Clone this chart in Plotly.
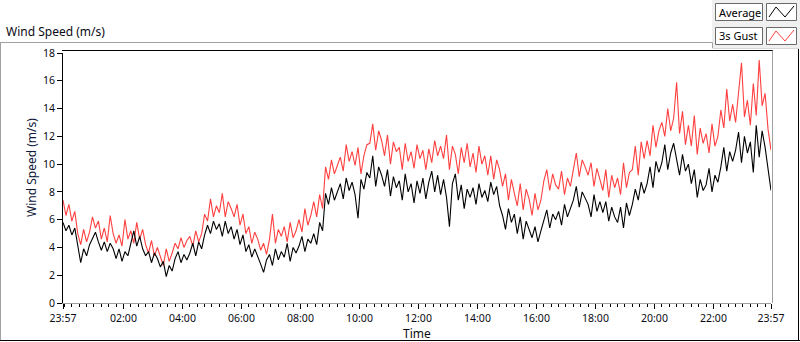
import pandas as pd
import plotly.graph_objects as go

# ---- data (one value per ~6 minutes) ----
start_time = "2024-01-01 23:57"
end_time = "2024-01-02 23:57"

average = [
    5.8, 5.2, 5.6, 4.9, 5.4,
    4.1, 2.9, 3.9, 3.4, 4.2,
    4.6, 5.1, 4.4,
    3.8, 4.4, 3.7, 4.3, 3.9,
    3.2, 3.9, 3.0, 3.7, 3.4,
    4.2, 5.2, 4.1, 4.8, 3.9,
    3.4, 3.7, 2.9, 3.6, 3.2,
    2.6, 3.0, 1.9, 2.7, 2.3,
    3.2, 3.7, 2.9, 3.5, 3.1,
    3.6, 4.3, 3.4, 4.4, 3.9,
    4.9, 5.6, 5.0, 5.9, 5.3,
    5.7, 4.8, 5.9, 5.0, 5.5,
    4.6, 5.3, 4.2, 4.9,
    3.7, 4.2, 3.3, 3.9, 3.4,
    2.8, 2.2, 3.1,
    3.5, 2.7, 3.9, 3.1, 3.7,
    3.3, 4.3, 3.0, 4.0, 3.6,
    4.1, 4.8, 3.7, 4.6, 4.3,
    5.0, 4.2, 5.8, 5.2,
    7.9, 7.1, 8.3, 7.4, 8.0,
    8.6, 7.5, 9.0, 8.1, 8.7,
    7.8, 6.1, 8.9, 8.2, 9.4,
    9.0, 10.6, 8.4, 9.8, 9.2,
    8.4, 9.6, 7.7, 9.1, 8.3,
    8.8, 7.4, 9.3, 8.0, 8.6,
    7.2, 8.8, 7.9, 9.0, 7.5,
    8.7, 9.5, 8.0, 9.2, 7.8,
    8.9, 7.6, 5.5, 8.6, 9.3,
    7.4, 8.5, 6.8, 8.2, 7.6,
    8.3, 7.1, 8.6, 7.6, 8.1,
    7.3, 8.7, 7.8, 8.4, 7.0,
    6.3, 5.3, 6.8, 5.8, 6.4,
    5.0, 6.2, 4.6, 5.9, 5.3,
    4.7, 5.5, 4.4, 5.2,
    5.9, 6.7, 5.4, 6.4, 6.0,
    6.6, 5.6, 7.1, 6.2, 6.8,
    7.4, 8.4, 6.9, 8.0, 7.6,
    7.1, 6.2, 7.8, 6.6, 7.3,
    6.5, 7.3, 5.9, 6.9, 6.2,
    5.8, 6.9, 5.4, 7.2, 6.3,
    7.1, 8.2, 7.4, 8.7, 7.9,
    8.6, 9.8, 8.3, 10.2, 9.4,
    10.1, 11.4, 9.6, 10.8, 11.5,
    10.3, 9.2, 10.7, 9.5, 10.0,
    8.6, 9.6, 7.6, 8.9, 8.1,
    8.5, 9.7, 8.0, 9.2, 8.7,
    9.8, 11.2, 9.5, 10.9, 10.2,
    11.0, 12.3, 10.1, 12.0, 10.8,
    11.6, 9.4, 12.8, 10.5, 12.4,
    11.2, 9.6, 8.1,
]

gust = [
    7.4, 6.3, 7.1, 5.9, 6.6,
    5.0, 4.2, 5.3, 4.4, 5.1,
    6.2, 5.4, 5.9,
    4.6, 5.4, 4.4, 6.3, 5.0,
    4.3, 4.9, 4.1, 6.0, 4.6,
    5.2, 4.3, 5.8, 4.6, 5.3,
    4.2, 3.6, 4.5, 3.4, 4.0,
    3.4, 2.7, 3.9, 3.0, 3.6,
    4.3, 3.9, 4.7, 4.0, 4.5,
    4.8, 4.1, 5.2, 4.4, 5.0,
    6.4, 5.9, 7.5, 6.2, 7.0,
    6.5, 7.9, 6.2, 7.3, 6.8,
    6.2, 7.1, 5.6, 6.4,
    5.0, 5.5, 4.3, 5.1, 4.6,
    3.8, 4.3, 3.5,
    4.6, 6.4, 4.3, 5.3, 4.8,
    5.5, 4.4, 5.8, 4.7, 5.2,
    6.0, 5.1, 6.8, 5.6, 6.3,
    7.3, 6.2, 7.8, 6.8,
    9.8, 8.9, 10.3, 9.3, 9.9,
    10.5, 9.5, 11.4, 10.2, 10.9,
    9.9, 11.2, 9.3, 10.6, 11.4,
    11.5, 12.9, 11.0, 12.4, 11.7,
    10.6, 12.1, 10.0, 11.6, 10.9,
    11.2, 9.6, 11.5, 10.2, 10.9,
    9.7, 11.4, 10.4, 11.0, 9.6,
    11.1, 10.1, 11.7, 10.6, 11.3,
    10.4, 12.1, 9.6, 11.3, 10.7,
    9.3, 11.2, 10.1, 11.5, 9.8,
    10.8, 9.4, 11.3, 10.0, 10.6,
    9.2, 10.6, 8.9, 10.3, 9.6,
    8.4, 9.3, 7.4, 8.9, 7.9,
    7.0, 8.6, 6.7, 8.2, 7.5,
    6.3, 7.9, 6.7, 7.4,
    8.8, 9.6, 8.1, 9.3, 8.5,
    8.2, 9.5, 7.8, 9.0, 8.4,
    9.6, 10.8, 9.1, 10.3, 9.8,
    9.2, 10.1, 8.4, 9.7, 8.8,
    8.1, 9.6, 7.6, 9.2, 8.3,
    9.0, 7.8, 10.1, 8.3, 9.4,
    9.6, 11.3, 9.2, 11.6, 10.4,
    11.7, 10.6, 12.8, 11.2, 12.4,
    13.0, 12.0, 14.0, 12.4, 13.3,
    15.9, 12.2, 13.8, 11.4, 12.8,
    11.3, 13.5, 10.7, 12.6, 11.5,
    12.2, 10.8, 12.9, 11.3, 12.0,
    13.9, 12.6, 15.4, 13.1, 14.3,
    13.0, 15.0, 17.3, 13.4, 14.6,
    12.8, 15.8, 13.5, 17.5, 14.2,
    15.1, 12.5, 11.0,
]

tick_hours = ["02:00", "04:00", "06:00", "08:00", "10:00", "12:00",
              "14:00", "16:00", "18:00", "20:00", "22:00"]
tick_labels = ["23:57"] + tick_hours + ["23:57"]
series_names = ["Average", "3s Gust"]

# ---- build ----
t_avg = pd.date_range(start_time, end_time, periods=len(average))
t_gust = pd.date_range(start_time, end_time, periods=len(gust))
tick_vals = [pd.Timestamp(start_time)] + \
    [pd.Timestamp("2024-01-02 " + h) for h in tick_hours] + [pd.Timestamp(end_time)]

W, H = 800, 342
L, R, T, B = 63, 29, 53, 39
PW, PH = W - L - R, H - T - B


def px(x):
    return (x - L) / PW


def py(y):
    return (H - B - y) / PH


FONT = "Noto Sans"
TXT = "#0a0a14"

fig = go.Figure()
fig.add_trace(go.Scatter(x=t_gust, y=gust, mode="lines", name=series_names[1],
                         line=dict(color="#ff4040", width=1.1)))
fig.add_trace(go.Scatter(x=t_avg, y=average, mode="lines", name=series_names[0],
                         line=dict(color="#000000", width=1.1)))

shapes = []
def hline(y, x0, x1, color):
    shapes.append(dict(type="line", xref="paper", yref="paper",
                       x0=px(x0), x1=px(x1), y0=py(y), y1=py(y),
                       line=dict(color=color, width=1)))

def vline(x, y0, y1, color):
    shapes.append(dict(type="line", xref="paper", yref="paper",
                       x0=px(x), x1=px(x), y0=py(y0), y1=py(y1),
                       line=dict(color=color, width=1)))

# legend background
shapes.append(dict(type="rect", xref="paper", yref="paper", layer="below",
                   x0=px(712), x1=px(800), y0=py(0), y1=py(48),
                   fillcolor="#f0f0f0", line=dict(width=0)))
# outer frame
hline(42.5, 0, 712.5, "#a0a0a0")
vline(712.5, 42.5, 48, "#a0a0a0")
vline(0.5, 42.5, 341, "#a0a0a0")
hline(340.5, 0, 800, "#000000")
vline(798.5, 48, 341, "#000000")
hline(48.5, 712.5, 799, "#d8d8d8")
# plot frame
hline(50.5, 62, 773, "#000000")
vline(772.5, 50.5, 303, "#a0a0a0")

# legend boxes
for yy0, yy1 in [(3.5, 20.5), (27.5, 44.5)]:
    shapes.append(dict(type="rect", xref="paper", yref="paper",
                       x0=px(715.5), x1=px(762.5), y0=py(yy1), y1=py(yy0),
                       fillcolor="white", line=dict(color="#6a6a6a", width=1)))
    shapes.append(dict(type="rect", xref="paper", yref="paper",
                       x0=px(766.5), x1=px(796.5), y0=py(yy1), y1=py(yy0),
                       fillcolor="white", line=dict(color="#6a6a6a", width=1)))

def zig(yc, color):
    pts = [(769, yc + 5), (776, yc - 5), (785, yc + 5), (794, yc - 6)]
    path = "M " + " L ".join(f"{px(a)},{py(b)}" for a, b in pts)
    shapes.append(dict(type="path", xref="paper", yref="paper", path=path,
                       line=dict(color=color, width=1)))

zig(12, "#000000")
zig(36, "#ff4040")

annotations = [
    dict(text="Wind Speed (m/s)", xref="paper", yref="paper", x=px(4), y=py(32),
         xanchor="left", yanchor="middle", showarrow=False,
         font=dict(family=FONT, size=12, color=TXT)),
    dict(text="Wind Speed (m/s)", xref="paper", yref="paper", x=px(31), y=py(168),
         xanchor="center", yanchor="middle", showarrow=False, textangle=-90,
         font=dict(family=FONT, size=12, color="#10183a")),
    dict(text="Time", xref="paper", yref="paper", x=px(417), y=py(333),
         xanchor="center", yanchor="middle", showarrow=False,
         font=dict(family=FONT, size=12, color=TXT)),
    dict(text=series_names[0], xref="paper", yref="paper", x=px(717), y=py(12),
         xanchor="left", yanchor="middle", showarrow=False,
         font=dict(family=FONT, size=11, color="#000")),
    dict(text=series_names[1], xref="paper", yref="paper", x=px(717), y=py(36),
         xanchor="left", yanchor="middle", showarrow=False,
         font=dict(family=FONT, size=11, color="#000")),
]

fig.update_layout(
    width=W, height=H, margin=dict(l=L, r=R, t=T, b=B),
    paper_bgcolor="white", plot_bgcolor="white", showlegend=False,
    shapes=shapes, annotations=annotations,
    font=dict(family=FONT, size=11, color=TXT),
    xaxis=dict(type="date", range=[tick_vals[0], tick_vals[-1]],
               tickmode="array", tickvals=tick_vals, ticktext=tick_labels,
               ticks="outside", ticklen=5, tickcolor="#000", tickwidth=1,
               showline=True, linecolor="#a0a0a0", linewidth=1,
               showgrid=False, zeroline=False,
               tickfont=dict(family=FONT, size=10.5, color=TXT),
               minor=dict(ticks="outside", ticklen=3, tickcolor="#000",
                          dtick=15 * 60 * 1000, tick0="2024-01-01 00:00",
                          showgrid=False)),
    yaxis=dict(range=[0, 18], tickmode="linear", tick0=0, dtick=2,
               ticks="outside", ticklen=5, tickcolor="#000", tickwidth=1,
               showline=True, linecolor="#000", linewidth=1,
               showgrid=False, zeroline=False,
               tickfont=dict(family=FONT, size=10.5, color=TXT)),
)

fig.write_html("out.html",
               config={"displayModeBar": False},
               post_script="document.body.style.margin='0px';"
                           "document.body.style.overflow='hidden';")
